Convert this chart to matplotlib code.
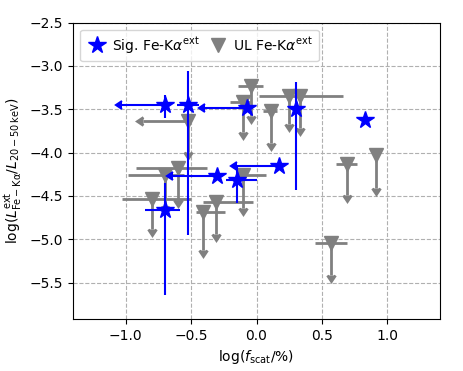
import numpy as np
import matplotlib
matplotlib.use("Agg")
import matplotlib.pyplot as plt

# Significant Fe-K alpha (extended) detections
sig_x = [-0.70, -0.52, -0.07, 0.30, 0.83, -0.30, -0.15, 0.17, -0.70]
sig_y = [-3.45, -3.45, -3.49, -3.50, -3.62, -4.27, -4.31, -4.15, -4.66]
sig_xerr_lo = [0.33, 0.09, 0.32, 0.0, 0.0, 0.34, 0.08, 0.32, 0.155]
sig_xerr_hi = [0.0, 0.08, 0.0, 0.0, 0.0, 0.0, 0.15, 0.0, 0.115]
sig_xuplim = [True, False, True, False, False, True, False, True, False]
sig_yerr_lo = [0.15, 1.50, 0.0, 0.93, 0.0, 0.0, 0.27, 0.0, 0.98]
sig_yerr_hi = [0.12, 0.39, 0.0, 0.32, 0.0, 0.0, 0.17, 0.0, 0.31]

# Upper limits on Fe-K alpha (extended)
ul_x = [-0.04, -0.10, -0.52, 0.11, 0.25, 0.33, 0.69, 0.91, -0.60, -0.70,
        -0.80, -0.10, -0.31, -0.41, 0.57]
ul_y = [-3.23, -3.42, -3.64, -3.52, -3.35, -3.35, -4.13, -4.03, -4.18, -4.26,
        -4.53, -4.26, -4.57, -4.68, -5.04]
ul_xerr_lo = [0.10, 0.10, 0.35, 0.06, 0.0, 0.31, 0.08, 0.0, 0.32, 0.28,
              0.23, 0.04, 0.10, 0.05, 0.12]
ul_xerr_hi = [0.09, 0.05, 0.0, 0.05, 0.0, 0.33, 0.08, 0.0, 0.22, 0.15,
              0.30, 0.17, 0.28, 0.17, 0.12]
ul_xuplim = [False, False, True, False, False, False, False, False, False, False,
             False, False, False, False, False]
ul_arrow = [0.35, 0.34, 0.35, 0.37, 0.32, 0.36, 0.36, 0.38, 0.37, 0.35,
            0.35, 0.38, 0.37, 0.44, 0.37]

x_ticks = [-1.0, -0.5, 0.0, 0.5, 1.0]
y_ticks = [-5.5, -5.0, -4.5, -4.0, -3.5, -3.0, -2.5]

fig = plt.figure(figsize=(4.63, 3.71), dpi=100)
ax = fig.add_axes([0.158, 0.140, 0.792, 0.799])

ax.grid(True, linestyle='--', color='#b0b0b0', linewidth=0.8, zorder=0)
ax.set_axisbelow(True)

# UL points
ax.errorbar(ul_x, ul_y,
            xerr=[ul_xerr_lo, ul_xerr_hi], xuplims=ul_xuplim,
            yerr=[ul_arrow, [0] * len(ul_arrow)], uplims=True,
            fmt='none', color='gray', ecolor='gray', elinewidth=2.0, capsize=0,
            capthick=2.0, zorder=2)
ul_h, = ax.plot(ul_x, ul_y, linestyle='none', marker='v', color='gray',
                markersize=10.5, zorder=3, label=r'UL Fe-K$\alpha^{\rm ext}$')

# significant points
ax.errorbar(sig_x, sig_y,
            xerr=[sig_xerr_lo, sig_xerr_hi], xuplims=sig_xuplim,
            yerr=[sig_yerr_lo, sig_yerr_hi],
            fmt='none', color='blue', ecolor='blue', elinewidth=1.5, capsize=0,
            capthick=1.5, zorder=4)
sig_h, = ax.plot(sig_x, sig_y, linestyle='none', marker='*', color='blue',
                 markersize=13, zorder=5, label=r'Sig. Fe-K$\alpha^{\rm ext}$')

ax.set_xlim(-1.4, 1.4)
ax.set_ylim(-5.92, -2.5)
ax.set_xticks(x_ticks)
ax.set_yticks(y_ticks)

ax.set_xlabel(r'log($f_{\rm scat}$/%)')
ax.set_ylabel(r'log($L^{\rm ext}_{\rm Fe-K\alpha}/L_{\rm 20-50\,keV}$)')

ax.legend(handles=[sig_h, ul_h], loc='upper left', ncol=2, numpoints=1,
          handletextpad=0.3, columnspacing=0.5, handlelength=1.6)

fig.savefig('out.png', dpi=100)
